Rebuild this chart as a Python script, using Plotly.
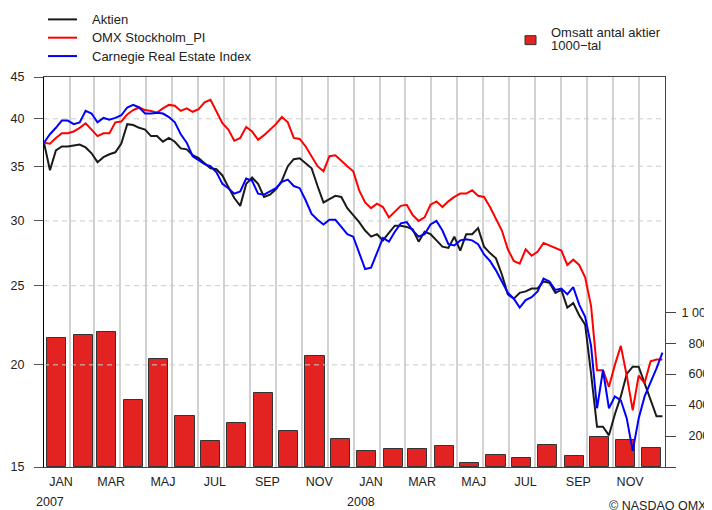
import math
import pandas as pd
import plotly.graph_objects as go

# ---------------- data ----------------
week_dates = pd.date_range("2007-01-01", periods=105, freq="7D")

aktien = [37.4, 34.6, 36.6, 37.0, 37.0, 37.1, 37.2, 36.9, 36.3, 35.4,
          35.9, 36.2, 36.4, 37.3, 39.4, 39.3, 39.0, 38.8, 38.1, 38.1,
          37.5, 37.9, 37.5, 36.8, 36.7, 36.1, 35.8, 35.3, 34.8, 34.7,
          34.1, 33.0, 32.0, 31.3, 33.3, 33.9, 33.3, 32.1, 32.3, 32.8,
          33.6, 35.0, 35.7, 35.8, 35.3, 34.8, 33.1, 31.6, 31.9, 32.2,
          32.1, 31.1, 30.5, 29.9, 29.2, 28.7, 28.9, 28.4, 29.0, 29.6,
          29.6, 29.5, 29.3, 28.3, 29.1, 28.9, 28.4, 27.9, 27.8, 28.7,
          27.6, 28.9, 28.9, 29.4, 27.9, 27.4, 27.0, 25.8, 24.4, 24.1,
          24.5, 24.6, 24.8, 24.8, 25.3, 25.2, 24.5, 24.7, 23.5, 23.8,
          23.0, 22.4, 19.5, 16.8, 16.8, 16.4, 17.4, 18.3, 19.5, 19.9,
          19.9, 19.0, 18.2, 17.3, 17.3]

omx_pi = [37.4, 37.3, 37.9, 38.4, 38.4, 38.6, 39.0, 39.5, 38.8, 38.1,
          38.4, 38.4, 39.6, 39.7, 40.5, 41.0, 41.3, 41.0, 40.9, 40.7,
          41.2, 41.6, 41.5, 40.9, 41.2, 40.8, 41.1, 41.9, 42.2, 40.8,
          39.5, 38.8, 37.6, 37.9, 39.1, 38.6, 37.7, 38.2, 38.8, 39.4,
          40.2, 39.6, 37.9, 37.8, 37.0, 36.0, 35.0, 34.5, 36.0, 36.1,
          35.5, 35.0, 34.5, 32.7, 31.6, 31.1, 31.5, 31.2, 30.3, 30.8,
          31.3, 31.4, 30.5, 30.0, 30.3, 31.4, 31.7, 31.2, 31.7, 32.1,
          32.4, 32.4, 32.7, 32.2, 32.1, 31.2, 30.2, 29.2, 27.7, 26.8,
          26.6, 27.7, 27.2, 27.5, 28.2, 28.0, 27.8, 27.6, 26.5, 26.9,
          26.5, 25.6, 23.6, 19.7, 19.7, 18.8, 20.0, 21.1, 19.4, 17.6,
          19.4, 19.0, 20.2, 20.3, 20.3]

carnegie = [37.4, 38.3, 39.0, 39.8, 39.8, 39.4, 39.6, 40.9, 40.6, 39.6,
            40.1, 39.9, 40.1, 40.4, 41.3, 41.6, 41.3, 40.6, 40.6, 40.7,
            40.6, 40.2, 39.6, 38.3, 37.4, 36.0, 35.6, 35.2, 35.0, 34.4,
            33.3, 32.9, 32.4, 32.6, 33.8, 33.6, 32.4, 32.3, 32.6, 32.9,
            33.5, 33.7, 33.1, 32.9, 31.8, 30.6, 30.1, 29.7, 30.1, 30.1,
            29.5, 28.9, 28.7, 27.5, 26.2, 26.3, 27.5, 28.6, 28.3, 29.1,
            29.8, 29.9, 29.2, 28.7, 28.9, 29.7, 30.0, 29.2, 28.1, 28.0,
            28.4, 28.5, 28.4, 28.1, 27.3, 26.8, 26.1, 25.3, 24.5, 24.1,
            23.5, 24.0, 24.2, 24.6, 25.5, 25.3, 24.7, 24.8, 24.4, 24.9,
            23.7, 22.9, 21.1, 17.7, 19.7, 17.7, 18.3, 18.1, 17.2, 15.7,
            17.2, 18.3, 19.0, 19.8, 20.7]

bar_months = [f"{y}-{m:02d}-16" for y in (2007, 2008) for m in range(1, 13)]
volume = [832, 853, 869, 430, 699, 331, 168, 284, 477, 232, 716, 183,
          105, 114, 118, 137, 25, 76, 55, 142, 68, 192, 174, 120]

month_labels = ["JAN", "MAR", "MAJ", "JUL", "SEP", "NOV"] * 2
month_label_pos = [f"{y}-{m:02d}-21" for y in (2007, 2008) for m in (1, 3, 5, 7, 9, 11)]
month_starts = [f"{y}-{m:02d}-01" for y in (2007, 2008) for m in range(1, 13)] + ["2009-01-01"]
year_labels = ["2007", "2008"]
year_pos = ["2007-01-08", "2008-01-09"]

left_ticks = [15, 20, 25, 30, 35, 40, 45]
grid_levels = [20, 25, 30, 35, 40]
right_ticks = [0, 200, 400, 600, 800, 1000]
right_ticktext = ["", "\u2007200", "\u2007400", "\u2007600", "\u2007800", "1 000"]

x_range = ["2007-01-01", "2009-01-01"]
FONT = "Liberation Sans, Arial, Helvetica, sans-serif"
TXT = "#222222"

# ---------------- figure ----------------
fig = go.Figure()

fig.add_trace(go.Bar(
    x=bar_months, y=volume, xaxis="x", yaxis="y",
    width=22.5 * 86400000,
    marker=dict(color="#e32322", line=dict(color="#333333", width=1)),
    hoverinfo="skip", showlegend=False,
))

# dashed horizontal grid (drawn above bars, below lines)
gx, gy = [], []
for v in grid_levels:
    gx += [x_range[0], x_range[1], None]
    gy += [v, v, None]
fig.add_trace(go.Scatter(
    x=gx, y=gy, xaxis="x", yaxis="y2", mode="lines",
    line=dict(color="#cccccc", width=1, dash="5px,4px"),
    hoverinfo="skip", showlegend=False,
))

series = [("Aktien", aktien, "#1a1a1a"),
          ("OMX Stockholm_PI", omx_pi, "#ff0000"),
          ("Carnegie Real Estate Index", carnegie, "#0000ff")]
for name, vals, col in series:
    fig.add_trace(go.Scatter(
        x=week_dates, y=vals, xaxis="x", yaxis="y2", mode="lines", name=name,
        line=dict(color=col, width=2), hoverinfo="skip", showlegend=False,
    ))

# ---------------- manual legend ----------------
shapes = []
annotations = []
leg_y = [1.1477, 1.1008, 1.0537]
for (name, _, col), yy in zip(series, leg_y):
    shapes.append(dict(type="line", xref="paper", yref="paper",
                       x0=0.0064, x1=0.0531, y0=yy, y1=yy,
                       line=dict(color=col, width=2)))
    annotations.append(dict(text=name, xref="paper", yref="paper", x=0.0735, y=yy,
                            xanchor="left", yanchor="middle", showarrow=False,
                            font=dict(size=13, color=TXT, family=FONT)))
shapes.append(dict(type="rect", xref="paper", yref="paper",
                   x0=0.7746, x1=0.7923, y0=1.0830, y1=1.1060,
                   fillcolor="#e32322", line=dict(color="#333333", width=1)))
annotations.append(dict(text="Omsatt antal aktier", xref="paper", yref="paper",
                        x=0.8145, y=1.1135, xanchor="left", yanchor="middle",
                        showarrow=False, borderpad=0,
                        font=dict(size=13, color=TXT, family=FONT)))
annotations.append(dict(text="1000\u2212tal", xref="paper", yref="paper",
                        x=0.8145, y=1.0815, xanchor="left", yanchor="middle",
                        showarrow=False, borderpad=0,
                        font=dict(size=13, color=TXT, family=FONT)))

for t, p in zip(year_labels, year_pos):
    annotations.append(dict(text=t, xref="x", yref="paper", x=p, y=-0.0885,
                            xanchor="center", yanchor="middle", showarrow=False,
                            font=dict(size=12.5, color=TXT, family=FONT)))
annotations.append(dict(text="\u00a9 NASDAQ OMX", xref="paper", yref="paper",
                        x=1.0715, y=-0.100, xanchor="right", yanchor="middle",
                        showarrow=False, font=dict(size=12.5, color=TXT, family=FONT)))

# The page body adds an 8px offset; size the figure so the plot lands where
# the reference has it inside the 712x510 window.
fig.update_layout(
    width=704, height=502, autosize=False,
    margin=dict(l=36, r=47, t=69, b=43, pad=0, autoexpand=False),
    paper_bgcolor="white", plot_bgcolor="white",
    font=dict(family=FONT, size=12.5, color=TXT),
    showlegend=False, bargap=0,
    shapes=shapes, annotations=annotations,
    xaxis=dict(
        type="date", range=x_range, automargin=False,
        tickmode="array", tickvals=month_label_pos, ticktext=month_labels,
        ticks="", showgrid=False, zeroline=False, ticklabelstandoff=3,
        showline=True, linecolor="#444444", linewidth=1, mirror=True,
        tickfont=dict(size=12.5, color=TXT, family=FONT),
        minor=dict(tickmode="array", tickvals=month_starts, showgrid=True,
                   gridcolor="#d2d2d2", gridwidth=1.5, ticks=""),
    ),
    yaxis=dict(
        side="right", range=[0, 2519], automargin=False,
        tickmode="array", tickvals=right_ticks, ticktext=right_ticktext,
        ticks="outside", ticklen=10, tickcolor="#444444", ticklabelstandoff=3,
        showgrid=False, zeroline=False,
        showline=True, linecolor="#444444", linewidth=1,
        tickfont=dict(size=12.5, color=TXT, family=FONT),
    ),
    yaxis2=dict(
        type="log", overlaying="y", side="left", automargin=False,
        range=[math.log10(15), math.log10(45)],
        tickmode="array", tickvals=left_ticks, ticktext=[str(v) for v in left_ticks],
        ticks="outside", ticklen=9, tickcolor="#555555", ticklabelstandoff=7,
        showgrid=False, zeroline=False,
        showline=True, linecolor="#000000", linewidth=1,
        tickfont=dict(size=12.5, color=TXT, family=FONT),
    ),
)

fig.write_html("out.html")
